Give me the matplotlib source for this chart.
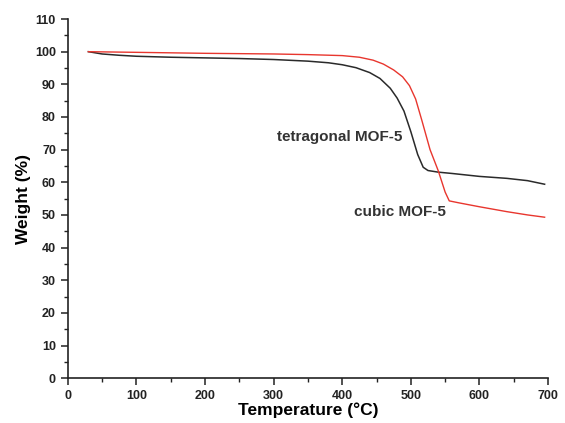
import matplotlib.pyplot as plt
from matplotlib.ticker import MultipleLocator

plt.rcParams['font.family'] = ['Liberation Sans', 'DejaVu Sans']

# tetragonal MOF-5 (black)
temp_tetragonal = [30, 50, 75, 100, 150, 200, 250, 300, 350, 380, 400, 420, 440, 455,
                   470, 480, 490, 500, 510, 518, 525, 540, 560, 600, 640, 670, 695]
weight_tetragonal = [100, 99.3, 98.9, 98.6, 98.3, 98.1, 97.9, 97.6, 97.1, 96.6, 96.0, 95.1,
                     93.6, 91.8, 88.8, 85.8, 81.8, 75.5, 68.5, 64.6, 63.6, 63.1, 62.7,
                     61.8, 61.2, 60.5, 59.4]

# cubic MOF-5 (red)
temp_cubic = [30, 100, 200, 300, 350, 400, 425, 445, 460, 475, 488, 498, 507, 516, 528,
              540, 550, 556, 570, 600, 640, 670, 695]
weight_cubic = [100, 99.8, 99.5, 99.3, 99.1, 98.8, 98.3, 97.4, 96.2, 94.4, 92.3, 89.6,
                85.5, 79.0, 70.0, 63.5, 57.0, 54.3, 53.7, 52.5, 51.0, 50.0, 49.3]

fig = plt.figure(figsize=(5.65, 4.23), dpi=100)
ax = fig.add_axes([0.120, 0.106, 0.850, 0.849])

ax.plot(temp_tetragonal, weight_tetragonal, color='#2a2a2a', linewidth=1.1)
ax.plot(temp_cubic, weight_cubic, color='#e8362e', linewidth=1.0)

ax.text(305, 74, 'tetragonal MOF-5', fontsize=11, fontweight='bold', color='#333333',
        va='center', ha='left')
ax.text(417, 51, 'cubic MOF-5', fontsize=11, fontweight='bold', color='#333333',
        va='center', ha='left')

ax.set_xlim(0, 700)
ax.set_ylim(0, 110)
ax.xaxis.set_major_locator(MultipleLocator(100))
ax.xaxis.set_minor_locator(MultipleLocator(50))
ax.yaxis.set_major_locator(MultipleLocator(10))
ax.yaxis.set_minor_locator(MultipleLocator(5))

for s in ['top', 'right']:
    ax.spines[s].set_visible(False)
for s in ['left', 'bottom']:
    ax.spines[s].set_linewidth(1.2)
    ax.spines[s].set_color('#222222')

ax.tick_params(which='major', direction='out', length=5, width=1.1, labelsize=9,
               colors='#222222')
ax.tick_params(which='minor', direction='out', length=3, width=1.0, colors='#222222')
for lab in ax.get_xticklabels() + ax.get_yticklabels():
    lab.set_fontweight('bold')

ax.set_xlabel('Temperature (\u00b0C)', fontsize=12.5, fontweight='bold', labelpad=0)
ax.set_ylabel('Weight (%)', fontsize=12.5, fontweight='bold', labelpad=3)

plt.savefig('out.png', dpi=100)
